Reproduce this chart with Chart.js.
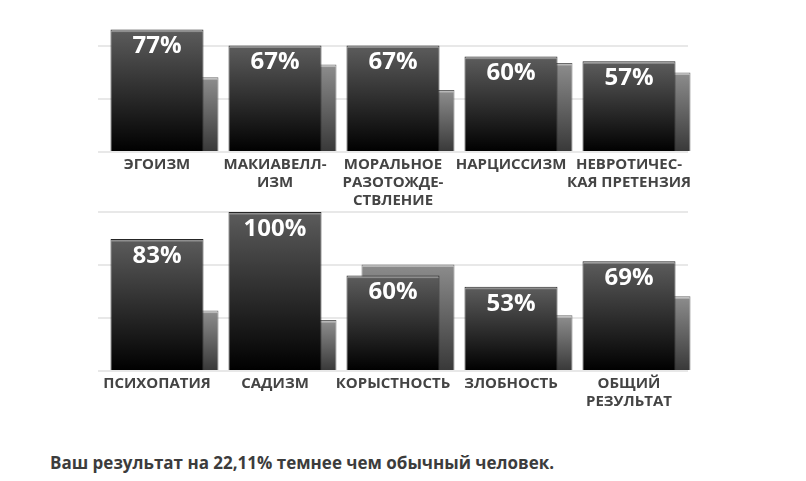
<!DOCTYPE html>
<html>
<head>
<meta charset="utf-8">
<script src="https://cdn.jsdelivr.net/npm/chart.js@4.4.1/dist/chart.umd.min.js"></script>
<style>
  html, body { margin: 0; padding: 0; background: #fff; }
  #page { position: relative; width: 806px; height: 481px; overflow: hidden; }
  #chartTop { position: absolute; left: 0; top: -7px; }
  #chartBottom { position: absolute; left: 0; top: 207px; }
  #summary {
    position: absolute; left: 50px; top: 452px;
    font: bold 17px 'Open Sans', sans-serif; color: #3c3c3c; line-height: 22px;
  }
</style>
</head>
<body>
<div id="page">
  <canvas id="chartTop" width="806" height="219"></canvas>
  <canvas id="chartBottom" width="806" height="224"></canvas>
  <div id="summary">Ваш результат на 22,11% темнее чем обычный человек.</div>
</div>
<script>
// Верхний ряд
const topLabels = ['ЭГОИЗМ', ['МАКИАВЕЛЛ-', 'ИЗМ'], ['МОРАЛЬНОЕ', 'РАЗОТОЖДЕ-', 'СТВЛЕНИЕ'], 'НАРЦИССИЗМ', ['НЕВРОТИЧЕС-', 'КАЯ ПРЕТЕНЗИЯ']];
const topScores = [77, 67, 67, 60, 57];
const topAverage = [47, 55, 39, 56, 50];

// Нижний ряд
const bottomLabels = ['ПСИХОПАТИЯ', 'САДИЗМ', 'КОРЫСТНОСТЬ', 'ЗЛОБНОСТЬ', ['ОБЩИЙ', 'РЕЗУЛЬТАТ']];
const bottomScores = [83, 100, 60, 53, 69];
const bottomAverage = [38, 32, 67, 35, 47];

// Линии сетки
const gridTicks = [0, 33.33, 66.67, 100];

// градиент для каждого столбика
function barGradient(stops, fallback) {
    return (ctx) => {
        const chart = ctx.chart;
        if (!chart.chartArea || ctx.type !== 'data') return fallback;
        const y = chart.scales.y;
        const top = y.getPixelForValue(ctx.raw);
        const bottom = y.getPixelForValue(0);
        const h = Math.max(bottom - top, 4);
        const g = chart.ctx.createLinearGradient(0, top, 0, bottom);
        g.addColorStop(0, stops[0]);
        g.addColorStop(2 / h, stops[0]);
        g.addColorStop(3 / h, stops[1]);
        g.addColorStop(1, stops[2]);
        return g;
    };
}

// средний столбик сдвинут вправо и лежит позади
const shiftAverage = {
    id: 'shiftAverage',
    beforeDatasetDraw(chart, args) {
        if (args.index === 1) {
            chart.ctx.save();
            chart.ctx.translate(15, 0);
        }
    },
    afterDatasetDraw(chart, args) {
        if (args.index === 1) chart.ctx.restore();
    }
};

// подписи процентов внутри столбиков
const valueLabels = {
    id: 'valueLabels',
    afterDatasetsDraw(chart) {
        const ctx = chart.ctx;
        const meta = chart.getDatasetMeta(0);
        const values = chart.data.datasets[0].data;
        ctx.save();
        ctx.fillStyle = '#ffffff';
        ctx.font = "bold 24px 'Open Sans'";
        ctx.textAlign = 'center';
        ctx.textBaseline = 'middle';
        meta.data.forEach((bar, i) => {
            ctx.fillText(values[i] + '%', bar.x, bar.y + 17);
        });
        ctx.restore();
    }
};

function crearGrafico(id, labels, scores, average, padTop) {
    new Chart(document.getElementById(id).getContext('2d'), {
        type: 'bar',
        data: {
            labels: labels,
            datasets: [{
                data: scores,
                order: 1,
                backgroundColor: barGradient(['#8e8e8e', '#5a5a5a', '#000000'], '#333'),
                borderColor: '#262626',
                borderWidth: 1
            }, {
                data: average,
                order: 2,
                backgroundColor: barGradient(['#b8b8b8', '#8a8a8a', '#383838'], '#777'),
                borderColor: '#6a6a6a',
                borderWidth: 1,
                clip: false
            }]
        },
        options: {
            responsive: false,
            animation: false,
            events: [],
            layout: { padding: { left: 98, right: 118, top: padTop, bottom: 0 } },
            datasets: {
                bar: { grouped: false, categoryPercentage: 1, barPercentage: 0.788 }
            },
            plugins: {
                legend: { display: false },
                tooltip: { enabled: false }
            },
            scales: {
                x: {
                    grid: { display: false, drawTicks: false },
                    border: { display: false },
                    ticks: {
                        color: '#444',
                        padding: 4,
                        autoSkip: false,
                        maxRotation: 0,
                        minRotation: 0,
                        font: { family: 'Open Sans', weight: 'bold', size: 15, lineHeight: 1.2 }
                    },
                    afterFit: (scale) => { scale.height = 60; }
                },
                y: {
                    min: 0,
                    max: 100,
                    ticks: { display: false },
                    border: { display: false },
                    grid: { color: '#e8e8e8', lineWidth: 2, drawTicks: false },
                    afterBuildTicks: (scale) => { scale.ticks = gridTicks.map(v => ({ value: v })); },
                    afterFit: (scale) => { scale.width = 0; }
                }
            }
        },
        plugins: [shiftAverage, valueLabels]
    });
}

crearGrafico('chartTop', topLabels, topScores, topAverage, 0);
crearGrafico('chartBottom', bottomLabels, bottomScores, bottomAverage, 5);
</script>
</body>
</html>
